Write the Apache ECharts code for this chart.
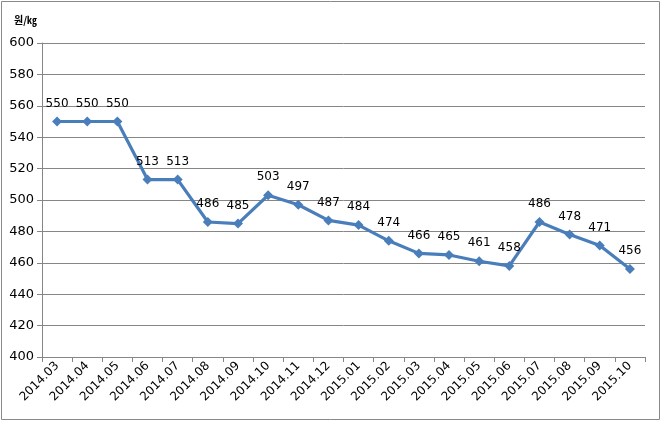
<!DOCTYPE html>
<html><head><meta charset="utf-8">
<script src="https://cdn.jsdelivr.net/npm/echarts@6/dist/echarts.min.js"></script>
<style>html,body{margin:0;padding:0;background:#fff}#c{width:662px;height:422px}</style>
</head><body><div id="c"></div>
<script>
const categories = ['2014.03','2014.04','2014.05','2014.06','2014.07','2014.08','2014.09','2014.10','2014.11','2014.12','2015.01','2015.02','2015.03','2015.04','2015.05','2015.06','2015.07','2015.08','2015.09','2015.10'];
const prices = [550,550,550,513,513,486,485,503,497,487,484,474,466,465,461,458,486,478,471,456];
const yMin = 400, yMax = 600, yStep = 20;
const unitLabel = '원/㎏';

const chart = echarts.init(document.getElementById('c'));
chart.setOption({
  animation: false,
  backgroundColor: '#fff',
  graphic: [
    {type:'rect', shape:{x:1.5,y:1.5,width:658,height:418}, style:{fill:'none', stroke:'#898989', lineWidth:1}},
    {type:'text', left: 14, top: 15, style:{text: unitLabel, font:'bold 10px "Noto Sans CJK KR", sans-serif', fill:'#000'}}
  ],
  grid: {left: 42, right: 17, top: 43, bottom: 65},
  xAxis: {
    type: 'category', data: categories, boundaryGap: true,
    axisLine: {lineStyle: {color: '#868686'}},
    axisTick: {show: true, length: 5, lineStyle: {color: '#868686'}},
    axisLabel: {rotate: 45, color: '#000', fontSize: 12, fontFamily: 'DejaVu Sans, sans-serif', margin: 7}
  },
  yAxis: {
    type: 'value', min: yMin, max: yMax, interval: yStep,
    axisLine: {show: true, lineStyle: {color: '#868686'}},
    axisTick: {show: true, length: 5, lineStyle: {color: '#868686'}},
    splitLine: {lineStyle: {color: '#868686', width: 1}},
    axisLabel: {color: '#000', fontSize: 13, fontFamily: 'DejaVu Sans, sans-serif', margin: 8}
  },
  series: [{
    type: 'line', data: prices,
    symbol: 'diamond', symbolSize: 10,
    lineStyle: {color: '#4a7ebb', width: 3.2},
    itemStyle: {color: '#4a7ebb'},
    label: {show: true, position: 'top', distance: 7, color: '#000', fontSize: 12, fontFamily: 'DejaVu Sans, sans-serif'}
  }]
});
</script></body></html>
